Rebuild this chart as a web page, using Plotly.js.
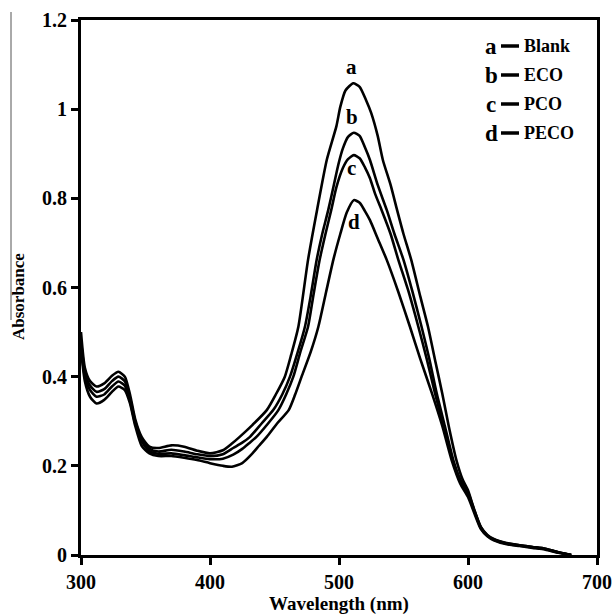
<!DOCTYPE html>
<html>
<head>
<meta charset="utf-8">
<script src="https://cdn.plot.ly/plotly-3.0.1.min.js"></script>
<style>html,body{margin:0;padding:0;background:#fff;}#chart{width:614px;height:615px;}</style>
</head>
<body>
<div id="chart"></div>
<script>
// Wavelength (nm) and absorbance for each sample
const wlA = [300,303,307,312,318,324,329,334,338,342,347,353,360,370,380,390,400,410,417,423,433,444,451,458,463,468.5,476,483,490.5,498,501,505,511,516,521,525,530,534,540,545,550,556,563,569,575,580,585,591,596,600,605,610,615,620,630,640,650,660,670,680];
const absA = [0.50,0.42,0.39,0.378,0.385,0.402,0.411,0.40,0.36,0.305,0.265,0.243,0.24,0.246,0.243,0.234,0.228,0.235,0.25,0.265,0.292,0.325,0.36,0.40,0.45,0.512,0.662,0.774,0.886,0.962,1.005,1.042,1.058,1.05,1.02,0.991,0.94,0.886,0.83,0.774,0.72,0.662,0.58,0.512,0.43,0.363,0.29,0.213,0.168,0.145,0.10,0.063,0.045,0.036,0.027,0.022,0.018,0.014,0.006,0.0];

const wlB = [300,303,307,312,318,324,329,334,338,342,347,353,360,370,380,390,400,410,418,425,431,440,449,456,462,468,473.6,478,482.7,487,491.7,496,499.5,503,507,511.5,516,520,524,530,537,543,550,557,564,570,575.7,582,588.6,594,600,605,610,615,620,630,640,650,660,670,680];
const absB = [0.48,0.41,0.38,0.366,0.372,0.39,0.40,0.39,0.352,0.30,0.26,0.238,0.232,0.236,0.232,0.226,0.222,0.226,0.24,0.252,0.265,0.295,0.325,0.36,0.40,0.455,0.512,0.58,0.662,0.72,0.774,0.83,0.876,0.912,0.938,0.947,0.94,0.915,0.886,0.83,0.774,0.72,0.662,0.59,0.512,0.44,0.363,0.29,0.213,0.17,0.14,0.10,0.062,0.044,0.035,0.026,0.022,0.018,0.014,0.006,0.0];

const wlC = [300,303,307,312,318,324,329,334,338,342,347,353,360,370,380,390,400,410,418,425,430,436,445,453,459,464.6,470,476,480,485,489.5,494,498,503,507,511.5,516,520,524,528,533,540,546,554,561.5,568,574.4,581,588,594,600,605,610,615,620,630,640,650,660,670,680];
const absC = [0.47,0.40,0.37,0.355,0.36,0.378,0.389,0.38,0.345,0.295,0.255,0.233,0.227,0.228,0.224,0.219,0.215,0.216,0.225,0.238,0.25,0.265,0.295,0.325,0.36,0.40,0.455,0.512,0.58,0.662,0.72,0.774,0.825,0.868,0.888,0.897,0.89,0.87,0.845,0.81,0.774,0.72,0.662,0.59,0.512,0.44,0.363,0.29,0.213,0.165,0.135,0.097,0.06,0.043,0.034,0.025,0.021,0.017,0.013,0.006,0.0];

const wlD = [300,303,307,312,318,324,329,334,338,342,347,353,360,370,380,390,400,410,417,425,432,438,444,452,461,466,471,478,484,490,495.6,501,506,511.5,516,520,524,530,537,546,555,563,572,580,587.3,594,600,605,610,615,620,630,640,650,660,670,680];
const absD = [0.46,0.39,0.355,0.34,0.348,0.366,0.378,0.37,0.34,0.29,0.245,0.228,0.222,0.222,0.218,0.213,0.206,0.20,0.198,0.206,0.225,0.245,0.265,0.295,0.325,0.36,0.40,0.455,0.512,0.59,0.662,0.72,0.768,0.796,0.79,0.772,0.751,0.71,0.662,0.59,0.512,0.44,0.363,0.29,0.213,0.16,0.13,0.093,0.058,0.042,0.033,0.024,0.02,0.016,0.012,0.005,0.0];

const curveLetters = ['a','b','c','d'];
const sampleNames = ['Blank','ECO','PCO','PECO'];
const labelX = [510, 510, 510, 512];
const labelY = [1.095, 0.982, 0.868, 0.747];

const xTicks = [300,400,500,600,700];
const yTicks = [0,0.2,0.4,0.6,0.8,1,1.2];
const yTickText = ['0','0.2','0.4','0.6','0.8','1','1.2'];

const serif = 'Liberation Serif, Times New Roman, serif';

const series = [[wlA,absA],[wlB,absB],[wlC,absC],[wlD,absD]];
const traces = series.map((s,i)=>({
  x: s[0], y: s[1], type:'scatter', mode:'lines', name: sampleNames[i],
  line:{color:'#000', width:2.6, shape:'spline', smoothing:0.6},
  showlegend:false, hoverinfo:'skip'
}));

const annotations = curveLetters.map((l,i)=>({
  x: labelX[i], y: labelY[i], xref:'x', yref:'y', text:l, showarrow:false,
  font:{family:serif, size:21, color:'#000', weight:'bold'}
}));

// legend-like text block (top right)
const legY = [46, 75, 104, 133];
legY.forEach((py,i)=>{
  annotations.push({
    xref:'paper', yref:'paper', x:(491-81)/516, y:(555-py)/535, text:curveLetters[i],
    showarrow:false, xanchor:'center', yanchor:'middle',
    font:{family:serif, size:23, color:'#000', weight:'bold'}
  });
  annotations.push({
    xref:'paper', yref:'paper', x:(522-81)/516, y:(555-py)/535, text:sampleNames[i],
    showarrow:false, xanchor:'left', yanchor:'middle',
    font:{family:serif, size:18, color:'#000', weight:'bold'}
  });
});

// y axis title as annotation
annotations.push({
  xref:'paper', yref:'paper', x:(18-81)/516, y:(555-297)/535, text:'Absorbance',
  textangle:-90, showarrow:false, xanchor:'center', yanchor:'middle',
  font:{family:serif, size:17, color:'#000', weight:'bold'}
});

const shapes = legY.map(py=>({
  type:'line', xref:'paper', yref:'paper',
  x0:(501-81)/516, x1:(519-81)/516, y0:(555-py)/535, y1:(555-py)/535,
  line:{color:'#000', width:3.5}
}));
// thin stray vertical line at left edge of the figure
shapes.push({type:'line', xref:'paper', yref:'paper',
  x0:(11-81)/516, x1:(11-81)/516, y0:(555-12)/535, y1:(555-320)/535,
  line:{color:'#555', width:1}});

const layout = {
  width:614, height:615,
  margin:{l:81, r:17, t:20, b:60},
  paper_bgcolor:'#fff', plot_bgcolor:'#fff',
  showlegend:false,
  xaxis:{
    range:[300,700], tickvals:xTicks, ticks:'outside', ticklen:7, tickwidth:3, tickcolor:'#000',
    showline:true, linewidth:3, linecolor:'#000', mirror:true, showgrid:false, zeroline:false,
    tickfont:{family:serif, size:20, color:'#000', weight:'bold'},
    title:{text:'Wavelength (nm)', standoff:4, font:{family:serif, size:19, color:'#000', weight:'bold'}}
  },
  yaxis:{
    range:[0,1.2], tickvals:yTicks, ticktext:yTickText, ticks:'outside', ticklen:7, tickwidth:3, tickcolor:'#000',
    showline:true, linewidth:3, linecolor:'#000', mirror:true, showgrid:false, zeroline:false,
    tickfont:{family:serif, size:20, color:'#000', weight:'bold'}
  },
  annotations: annotations,
  shapes: shapes
};

Plotly.newPlot('chart', traces, layout, {displayModeBar:false, staticPlot:true});
</script>
</body>
</html>
